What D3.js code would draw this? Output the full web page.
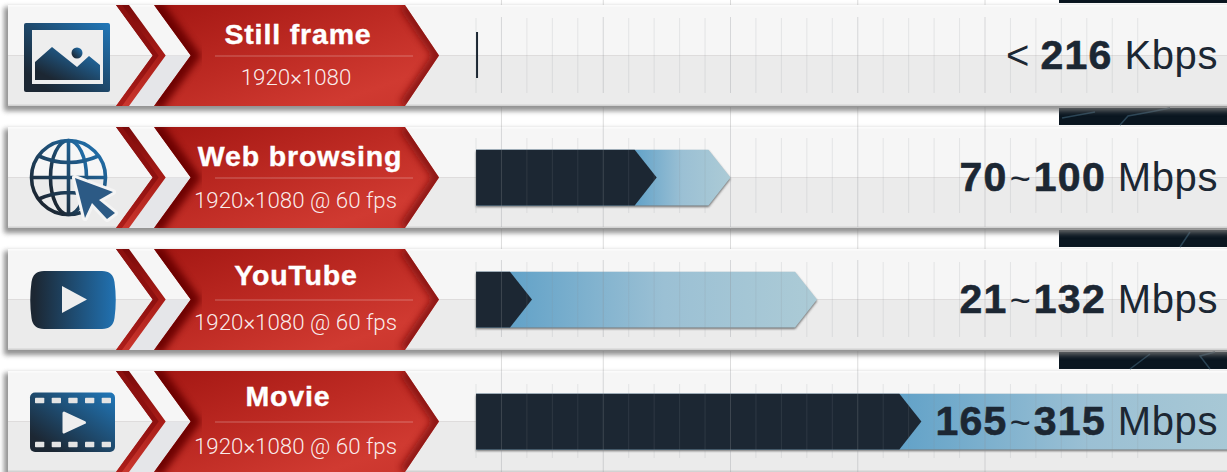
<!DOCTYPE html>
<html><head><meta charset="utf-8">
<script src="https://cdn.jsdelivr.net/npm/d3@7/dist/d3.min.js"></script>
<style>html,body{margin:0;padding:0;background:#fff;overflow:hidden}svg{display:block}</style>
</head><body><svg id="c" width="1227" height="472"></svg>
<script>
const categories = ["Still frame","Web browsing","YouTube","Movie"];
const resolutions = ["1920×1080","1920×1080 @ 60 fps","1920×1080 @ 60 fps","1920×1080 @ 60 fps"];
const barLow = [0,71,22,175];
const barHigh = [0.8,100,134,315];
const labelPrefix = ["<","","",""];
const labelLow = ["","70","21","165"];
const labelHigh = ["216","100","132","315"];
const labelUnit = ["Kbps","Mbps","Mbps","Mbps"];
const tickValues = [0,10,20,30,40,50,60,70,80,90,100,110,120,130,140,150,160,170,180,190,200,210,220,230,240,250,260];
const majorTicks = [10,50,100,150,200];

const svg = d3.select("#c");
const W = 1227, H = 472;
const x = d3.scaleLinear().domain([0,100]).range([476,730.5]);
const rowTop = d3.scaleLinear().domain([0,1]).range([5,127]);
const PH = 101, MID = 50.5;
const defs = svg.append("defs");
function lin(id,x1,y1,x2,y2,stops){
  const g=defs.append("linearGradient").attr("id",id).attr("x1",x1).attr("y1",y1).attr("x2",x2).attr("y2",y2);
  stops.forEach(s=>g.append("stop").attr("offset",s[0]).attr("stop-color",s[1]));
}
lin("red",0,0,1,1,[[0,"#a41713"],[0.45,"#bd2a23"],[0.8,"#d03a31"],[1,"#c9342c"]]);
lin("chev",0,0,0,1,[[0,"#7a0a0a"],[0.5,"#a81c17"],[1,"#cb372e"]]);
lin("chevD",0,0,0,1,[[0,"#8f1210"],[0.5,"#8a0e0e"],[1,"#a81a16"]]);
lin("icon",0,1,1,0,[[0.15,"#1c2733"],[1,"#2178ba"]]);
lin("iconH",0,0,1,0,[[0.05,"#1c2733"],[1,"#2172b2"]]);
const f1=defs.append("filter").attr("id","sh").attr("x","-5%").attr("y","-20%").attr("width","110%").attr("height","140%");
f1.append("feGaussianBlur").attr("stdDeviation",2.6);
const f2=defs.append("filter").attr("id","bl").attr("x","-30%").attr("y","-10%").attr("width","160%").attr("height","120%");
f2.append("feGaussianBlur").attr("stdDeviation",3.5);
const f3=defs.append("filter").attr("id","sm").attr("x","-5%").attr("y","-10%").attr("width","110%").attr("height","130%");
f3.append("feGaussianBlur").attr("stdDeviation",1);

const dark = svg.append("g");
[[0,3],[108,17],[230,17],[352,17]].forEach(d=>dark.append("rect").attr("x",1059).attr("y",d[0]).attr("width",168).attr("height",d[1]).attr("fill","#0a1620"));
const d3line = d3.line();
[[[1120,125],[1128,116],[1150,112],[1170,108]],[[1062,118],[1095,112]],[[1180,247],[1190,232]],[[1210,369],[1200,356],[1215,352]],[[1130,369],[1150,354]]].forEach(p=>
  dark.append("path").attr("d",d3line(p)).attr("fill","none").attr("stroke","#2a4455").attr("stroke-width",1.5));

const gapRanges=[[0,5],[107,127],[229,249],[351,371]];
gapRanges.forEach(r=>svg.append("g").selectAll("line").data(majorTicks).join("line")
  .attr("x1",d=>x(d)).attr("x2",d=>x(d)).attr("y1",r[0]).attr("y2",r[1]).attr("stroke","#dcdcdc").attr("stroke-width",1));

const minorRange=[[13,88],[11,86],[13,88],[13,87]];
const majorRange=[[12,88],[0,100],[11,88],[0,101]];
const titleY=[39,39,36,35], titleX=[298,300,296,288], subY=[80,81,81,83];

const rows = svg.selectAll("g.row").data(categories).join("g").attr("class","row")
  .attr("transform",(d,i)=>`translate(0,${rowTop(i)})`);

rows.each(function(cat,i){
  const g=d3.select(this);
  g.append("rect").attr("x",4).attr("y",2).attr("width",W).attr("height",PH+3).attr("fill","#777").attr("opacity",.8).attr("filter","url(#sh)");
  g.append("rect").attr("x",8).attr("y",0).attr("width",W).attr("height",MID).attr("fill","#f6f6f6");
  g.append("rect").attr("x",8).attr("y",MID).attr("width",W).attr("height",PH-MID).attr("fill","#ebebeb");
  g.append("rect").attr("x",8).attr("y",PH-1.5).attr("width",W).attr("height",1.5).attr("fill","#d2d2d2");
  g.append("line").attr("x1",8).attr("x2",W).attr("y1",MID).attr("y2",MID).attr("stroke","#dedcdc");
  g.append("rect").attr("x",8).attr("y",0).attr("width",W).attr("height",1.5).attr("fill","#fbfbfb");

  g.append("path").attr("d",d3line([[116,PH],[152.7,MID],[190.7,MID],[154,PH]])+"Z").attr("fill","#e5e6e9");

  const chev=[[116,0],[129,0],[165.7,MID],[129,PH],[116,PH],[152.7,MID]];
  g.append("path").attr("d",d3line(chev)+"Z").attr("fill","url(#chev)");
  g.append("path").attr("d",d3line([[116,0],[122,0],[158.7,MID],[122,PH],[116,PH],[152.7,MID]])+"Z").attr("fill","url(#chevD)").attr("opacity",.85);

  const clip="clip"+i;
  const arrow=[[154,0],[405,0],[439,MID],[405,PH],[154,PH],[190.7,MID]];
  defs.append("clipPath").attr("id",clip).append("path").attr("d",d3line(arrow)+"Z");
  g.append("path").attr("d",d3line(arrow)+"Z").attr("fill","url(#red)");
  const sh=g.append("g").attr("clip-path",`url(#${clip})`);
  sh.append("path").attr("d",d3line([[154,0],[190.7,MID],[154,PH]])).attr("fill","none").attr("stroke","#6a0606").attr("stroke-width",17).attr("filter","url(#bl)").attr("opacity",.95);
  sh.append("path").attr("d",d3line([[405,0],[439,MID],[405,PH]])).attr("fill","none").attr("stroke","#7a0a0a").attr("stroke-width",13).attr("filter","url(#bl)").attr("opacity",.75);
  g.append("line").attr("x1",215).attr("x2",413).attr("y1",MID+.5).attr("y2",MID+.5).attr("stroke","#fff").attr("stroke-opacity",.3);

  g.append("text").attr("x",titleX[i]).attr("y",titleY[i]).attr("text-anchor","middle")
    .attr("font-family","Liberation Sans").attr("font-weight",700).attr("font-size",28.5).attr("letter-spacing",.85)
    .attr("stroke","#fff").attr("stroke-width",.4).attr("fill","#fff").text(cat);
  g.append("text").attr("x",i==0?296:295.5).attr("y",subY[i]).attr("text-anchor","middle")
    .attr("font-family","Roboto").attr("font-weight",300).attr("font-size",22.3).attr("fill","#fff").attr("fill-opacity",.92).text(resolutions[i]);

  const x0=x(0), lo=x(barLow[i]), hi=x(barHigh[i]), by=i==0?27:22.7, bh=i==0?46:55.8, T=22;
  if(i==0){
    g.append("rect").attr("x",x0).attr("y",by).attr("width",hi-x0).attr("height",bh).attr("fill","#1c2733");
  } else {
    const yT=by,yM=by+bh/2,yB=by+bh;
    const blue=[[x0,yT],[hi-T,yT],[hi,yM],[hi-T,yB],[x0,yB]];
    const dk=[[x0,yT],[lo-T,yT],[lo,yM],[lo-T,yB],[x0,yB]];
    g.append("path").attr("d",d3line(blue)+"Z").attr("transform","translate(0,1.5)").attr("fill","#444").attr("opacity",.75).attr("filter","url(#sm)");
    const gid="bg"+i;
    lin(gid,0,0,1,0,[[0,"#62a2c8"],[0.5,"#9bc0d4"],[1,"#accbd6"]]);
    defs.select("#"+gid).attr("gradientUnits","userSpaceOnUse").attr("x1",lo-T).attr("x2",Math.min(hi,W+50)).attr("y1",0).attr("y2",0);
    g.append("path").attr("d",d3line(blue)+"Z").attr("fill",`url(#${gid})`);
    g.append("path").attr("d",d3line(dk)+"Z").attr("fill","#1c2733");
  }

  g.append("g").selectAll("line").data(tickValues).join("line")
    .attr("x1",d=>x(d)).attr("x2",d=>x(d))
    .attr("y1",d=>majorTicks.includes(d)?majorRange[i][0]:minorRange[i][0])
    .attr("y2",d=>majorTicks.includes(d)?majorRange[i][1]:minorRange[i][1])
    .attr("stroke","#8a8f94").attr("stroke-opacity",d=>majorTicks.includes(d)?.3:.17).attr("stroke-width",1);

  const t=g.append("text").attr("x",1218).attr("y",63.5).attr("text-anchor","end")
    .attr("font-family","Liberation Sans").attr("font-size",40).attr("fill","#1c2733");
  if(labelPrefix[i]){ t.append("tspan").text(labelPrefix[i]+"\u00a0"); }
  if(labelLow[i]){ t.append("tspan").attr("font-weight",700).attr("font-size",41).attr("letter-spacing",1.3).attr("stroke","#1c2733").attr("stroke-width",.6).text(labelLow[i]);
    t.append("tspan").attr("font-size",36).attr("letter-spacing",3).attr("dx",2).text("~"); }
  t.append("tspan").attr("font-weight",700).attr("font-size",41).attr("letter-spacing",1.3).attr("stroke","#1c2733").attr("stroke-width",.6).text(labelHigh[i]);
  t.append("tspan").attr("letter-spacing",.6).text(" "+labelUnit[i]);
});

const icons=rows.append("g");
icons.filter((d,i)=>i==0).each(function(){
  const g=d3.select(this);
  g.append("rect").attr("x",24).attr("y",18).attr("width",86).attr("height",69).attr("rx",2).attr("fill","url(#icon)");
  g.append("rect").attr("x",32).attr("y",25).attr("width",71).attr("height",54).attr("fill","#eeeeee");
  g.append("path").attr("d",d3line([[35,57],[35,75],[100,75],[100,60],[89,51],[77,62],[52,42]])+"Z").attr("fill","url(#icon)");
  g.append("circle").attr("cx",77).attr("cy",48).attr("r",5.5).attr("fill","url(#icon)");
});
icons.filter((d,i)=>i==1).each(function(){
  const g=d3.select(this), cx=68.5, cy=50.5, r=37;
  const s=g.append("g").attr("fill","none").attr("stroke","url(#icon)").attr("stroke-width",3.6);
  s.append("circle").attr("cx",cx).attr("cy",cy).attr("r",r);
  s.append("ellipse").attr("cx",cx).attr("cy",cy).attr("rx",18).attr("ry",r);
  s.append("path").attr("d",`M${cx},${cy-r}V${cy+r}M${cx-r},${cy}H${cx+r}M${cx-31},${cy-22}Q${cx},${cy-8} ${cx+31},${cy-22}M${cx-31},${cy+22}Q${cx},${cy+8} ${cx+31},${cy+22}`);
  const cur=[[75,51],[113,65],[99,73],[115,86],[107,92],[92,76],[85,91]];
  g.append("path").attr("d",d3line(cur)+"Z").attr("fill","#2c5a85").attr("stroke","#f4f4f4").attr("stroke-width",6).attr("paint-order","stroke").attr("stroke-linejoin","round");
});
icons.filter((d,i)=>i==2).each(function(){
  const g=d3.select(this);
  g.append("path").attr("d","M44,22 H102 Q113,22 114.5,33 Q117,51 114.5,69 Q113,80 102,80 H44 Q33,80 31.5,69 Q29,51 31.5,33 Q33,22 44,22Z").attr("fill","url(#iconH)");
  g.append("path").attr("d",d3line([[62,37],[87,50.5],[62,64]])+"Z").attr("fill","#eeeeee");
});
icons.filter((d,i)=>i==3).each(function(){
  const g=d3.select(this);
  g.append("rect").attr("x",30).attr("y",21.5).attr("width",85).attr("height",59.5).attr("rx",5).attr("fill","url(#icon)");
  const holes=[35,51.7,68.3,85,101.7];
  [26.7,70.7].forEach(y=>g.append("g").selectAll("rect").data(holes).join("rect").attr("x",d=>d).attr("y",y).attr("width",9.3).attr("height",5.6).attr("rx",.8).attr("fill","#e4e4e4"));
  g.append("path").attr("d",d3line([[64,42],[84.5,51.5],[64,61]])+"Z").attr("fill","#eeeeee").attr("stroke","#eeeeee").attr("stroke-width",3).attr("stroke-linejoin","round");
});
</script></body></html>
